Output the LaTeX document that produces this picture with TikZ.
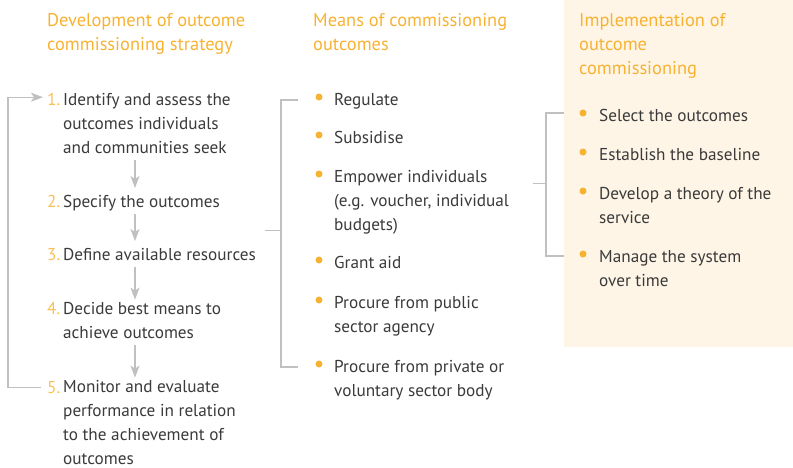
\documentclass[tikz,border=0pt]{standalone}
\usepackage{fontspec}
\setmainfont{PT Sans}
\usetikzlibrary{arrows.meta}
\definecolor{hdorange}{RGB}{248,178,50}
\definecolor{numorange}{RGB}{250,192,85}
\definecolor{bodygray}{RGB}{58,58,58}
\definecolor{linegray}{RGB}{192,192,192}
\definecolor{panel}{RGB}{254,245,231}
\begin{document}
\begin{tikzpicture}
	[x=1pt,y=-1pt,
	 txt/.style={anchor=base west,inner sep=0pt,align=left,text=bodygray,
	   font=\fontsize{17.2}{24}\selectfont,execute at begin node=\strut,execute at end node=\strut},
	 hd/.style={txt,text=hdorange,font=\fontsize{18.4}{24}\selectfont},
	 num/.style={txt,text=numorange},
	 dot/.style={circle,fill=hdorange,inner sep=0pt,minimum size=7pt},
	 flow/.style={draw=linegray,line width=1.4pt,-{Stealth[length=12pt,width=9pt,inset=3pt]}},
	 brace/.style={draw=linegray,line width=1.4pt}]
	\useasboundingbox (0,0) rectangle (793,467);
	%yellow panel behind the third column
	\fill[panel] (564,0) rectangle (793,347);

	%column headers (placed at the baseline of their last line)
	\node[hd] (h1) at (47,50)  {Development of outcome\\commissioning strategy};
	\node[hd] (h2) at (313,50) {Means of commissioning\\outcomes};
	\node[hd] (h3) at (579,74) {Implementation of\\outcome\\commissioning};

	%steps of the strategy
	\node[num] (n1) at (47,105) {1.};
	\node[txt] (s1) at (63,153) {Identify and assess the\\outcomes individuals\\and communities seek};
	\node[num] (n2) at (47,207) {2.};
	\node[txt] (s2) at (63,207) {Specify the outcomes};
	\node[num] (n3) at (47,260) {3.};
	\node[txt] (s3) at (63,260) {Define available resources};
	\node[num] (n4) at (47,314) {4.};
	\node[txt] (s4) at (63,338) {Decide best means to\\achieve outcomes};
	\node[num] (n5) at (47,393) {5.};
	\node[txt,execute at end node={}] (s5) at (63,464) {Monitor and evaluate\\performance in relation\\to the achievement of\\outcomes};

	\coordinate (ax) at (135,0);
	\draw[flow,shorten >=2pt] (s1.south -| ax) -- (s2.north -| ax);
	\draw[flow,shorten >=2pt] (s2.south -| ax) -- (s3.north -| ax);
	\draw[flow,shorten >=2pt] (s3.south -| ax) -- (s4.north -| ax);
	\draw[flow,shorten >=2pt] (s4.south -| ax) -- (s5.north -| ax);
	%loop back from 5 to 1
	\draw[flow] ([xshift=-6pt,yshift=1pt]n5.west) -- ++(-33,0) |- ([xshift=-4pt,yshift=3pt]n1.west);

	%means of commissioning
	\node[dot] (d1) at (319,97)  {};
	\node[txt] (m1) at (334,105) {Regulate};
	\node[dot] (d2) at (319,135) {};
	\node[txt] (m2) at (334,143) {Subsidise};
	\node[dot] (d3) at (319,174) {};
	\node[txt] (m3) at (334,230) {Empower individuals\\(e.g. voucher, individual\\budgets)};
	\node[dot] (d4) at (319,260) {};
	\node[txt] (m4) at (334,268) {Grant aid};
	\node[dot] (d5) at (319,300) {};
	\node[txt] (m5) at (334,332) {Procure from public\\sector agency};
	\node[dot] (d6) at (319,364) {};
	\node[txt] (m6) at (334,396) {Procure from private or\\voluntary sector body};

	%implementation
	\node[dot] (e1) at (583,113) {};
	\node[txt] (i1) at (599,121) {Select the outcomes};
	\node[dot] (e2) at (583,152) {};
	\node[txt] (i2) at (599,160) {Establish the baseline};
	\node[dot] (e3) at (583,191) {};
	\node[txt] (i3) at (599,223) {Develop a theory of the\\service};
	\node[dot] (e4) at (583,254) {};
	\node[txt] (i4) at (599,286) {Manage the system\\over time};

	%brackets
	\draw[brace] ([xshift=-21pt,yshift=-3pt]d1.center) -- ++(-17,0) |- ([xshift=-21pt,yshift=-3pt]d6.center);
	\path ([xshift=-38pt]d1.center) -- coordinate[midway] (lb) ([xshift=-38pt]d6.center);
	\draw[brace] (lb) -- ++(-16,0);
	\draw[brace] ([xshift=-19pt]e1.center) -- ++(-18,0) |- ([xshift=-19pt,yshift=-2pt]e4.center);
	\path ([xshift=-37pt]e1.center) -- coordinate[midway] (rb) ([xshift=-37pt]e4.center);
	\draw[brace] (rb) -- ++(-13,0);
\end{tikzpicture}
\end{document}
